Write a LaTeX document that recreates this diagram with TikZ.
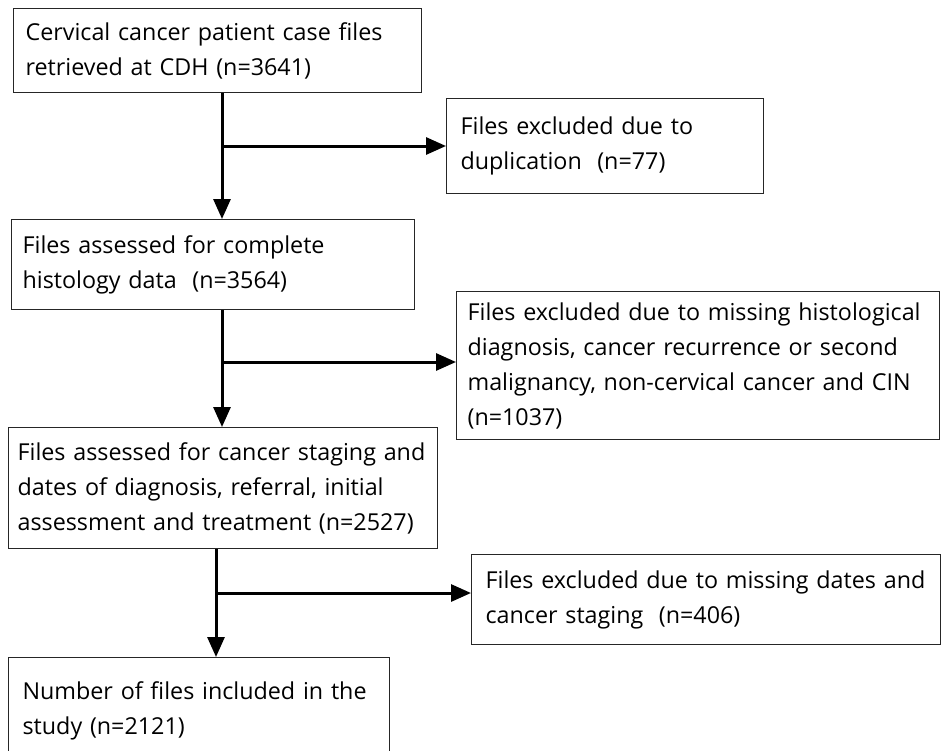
\documentclass[tikz,border=0pt]{standalone}
\usepackage{fontspec}
\setmainfont{Open Sans}
\usetikzlibrary{arrows.meta}

\tikzset{
  stage/.style={draw=black!85, line width=1.2pt, anchor=north west, align=left,
    inner xsep=12pt, inner ysep=0pt, font=\fontsize{23.3}{35}\selectfont},
  flow/.style={line width=3pt, -{Triangle[length=20pt,width=17pt]}}
}

\begin{document}
\begin{tikzpicture}[x=1pt,y=-1pt]
\useasboundingbox (0,0) rectangle (942,750);
% main stages
\node[stage, text width=384pt, minimum height=84pt] (cdh) at (13,8)
  {Cervical cancer patient case files\\retrieved at CDH (n=3641)};
\node[stage, inner xsep=11pt, text width=381pt, minimum height=90pt] (histo) at (11,219)
  {Files assessed for complete\\histology data\ \ (n=3564)};
\node[stage, inner xsep=9pt, text width=411pt, minimum height=121pt] (staging) at (8,427)
  {Files assessed for cancer staging and\\dates of diagnosis, referral, initial\\assessment and treatment (n=2527)};
\node[stage, inner xsep=14pt, text width=353pt, minimum height=106pt] (study) at (8,657)
  {Number of files included in the\\study (n=2121)};
% exclusions
\node[stage, inner xsep=14pt, text width=289pt, minimum height=95pt] (dup) at (446,98)
  {Files excluded due to\\duplication\ \ (n=77)};
\node[stage, inner xsep=11pt, text width=461pt, minimum height=148pt] (nohisto) at (456,291)
  {Files excluded due to missing histological\\diagnosis, cancer recurrence or second\\malignancy, non-cervical cancer and CIN\\(n=1037)};
\node[stage, inner xsep=14pt, text width=441pt, minimum height=90pt] (nodates) at (471,554)
  {Files excluded due to missing dates and\\cancer staging\ \ (n=406)};
% junctions
\coordinate (j1) at (222,146);
\coordinate (j2) at (222,362);
\coordinate (j3) at (216,593);
\draw[flow] (cdh.south -| j1) -- (histo.north -| j1);
\draw[flow] (j1) -- (j1 -| dup.west);
\draw[flow] (histo.south -| j2) -- (staging.north -| j2);
\draw[flow] (j2) -- (j2 -| nohisto.west);
\draw[flow] (staging.south -| j3) -- (study.north -| j3);
\draw[flow] (j3) -- (j3 -| nodates.west);
\end{tikzpicture}
\end{document}
